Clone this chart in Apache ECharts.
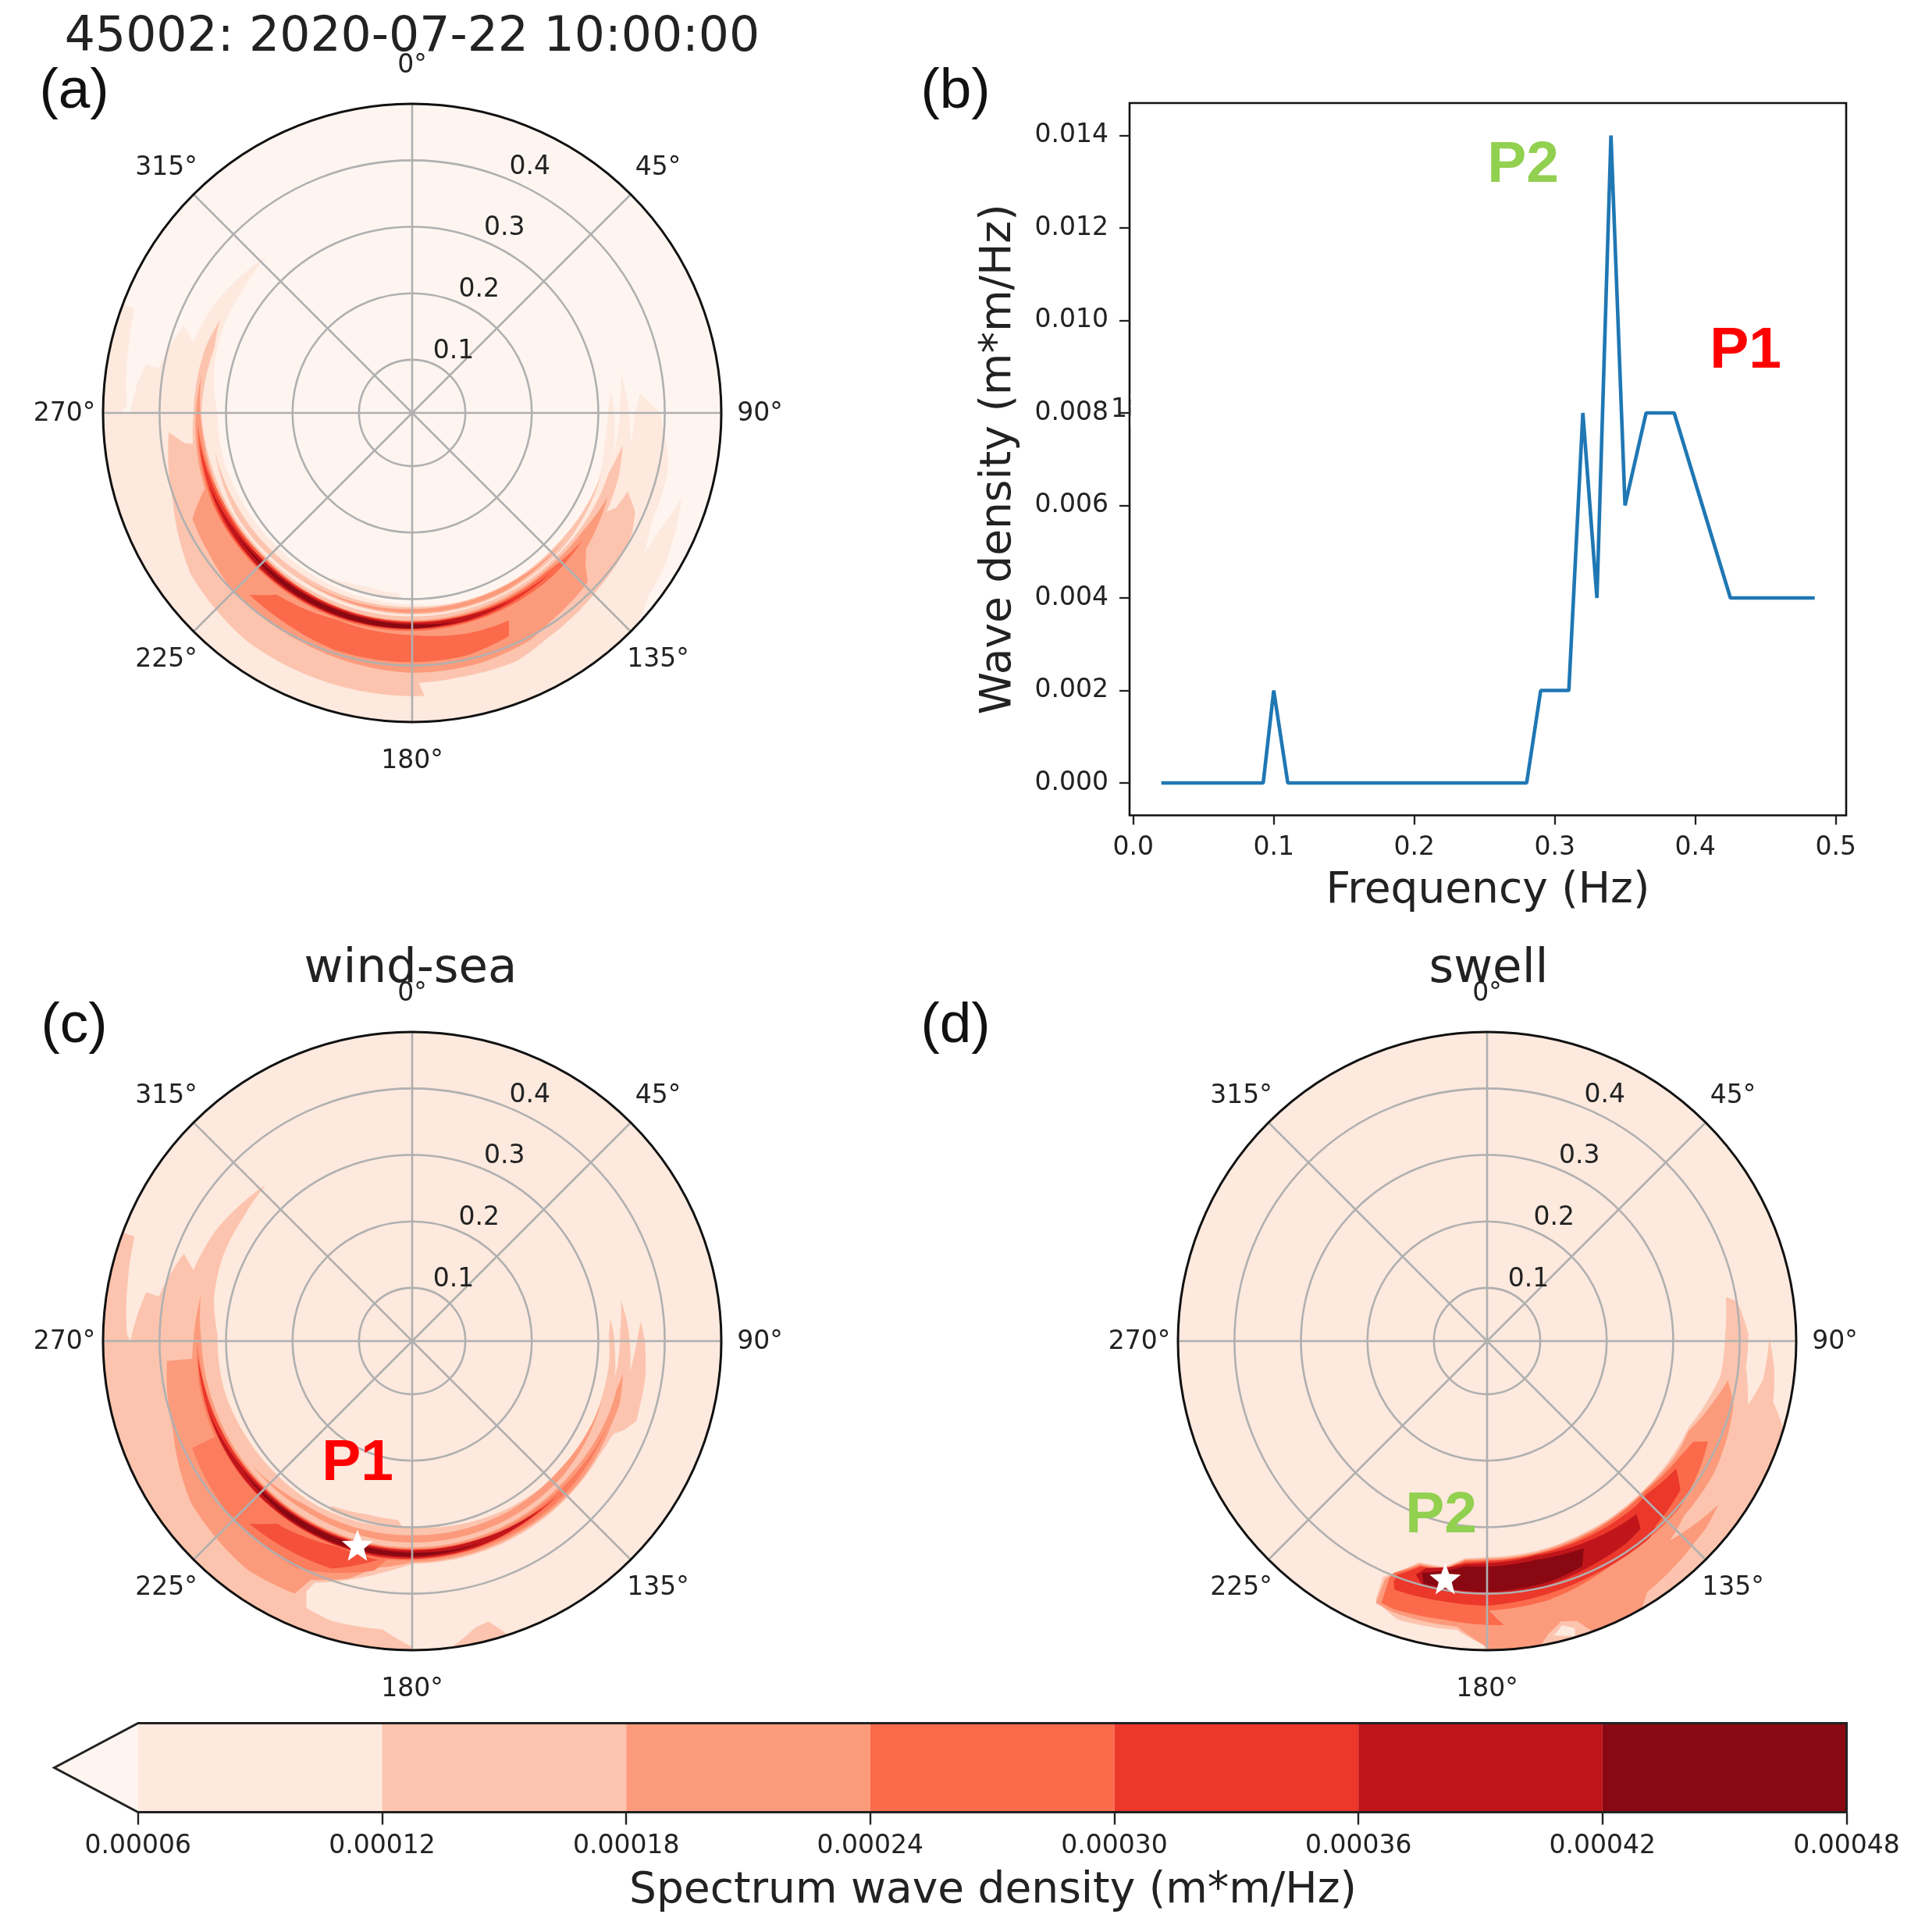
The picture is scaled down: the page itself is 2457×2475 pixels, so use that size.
<!DOCTYPE html>
<html><head><meta charset="utf-8">
<style>html,body{margin:0;padding:0;background:#fff}#c{width:2457px;height:2475px}</style>
<script src="https://cdn.jsdelivr.net/npm/echarts@6/dist/echarts.min.js"></script>
</head><body><div id="c"></div>
<script>
// ---- line spectrum (panel b)
const freqs=[0.02,0.0325,0.0375,0.0425,0.0475,0.0525,0.0575,0.0625,0.0675,0.0725,0.0775,0.0825,0.0875,0.0925,0.1,0.11,0.12,0.13,0.14,0.15,0.16,0.17,0.18,0.19,0.2,0.21,0.22,0.23,0.24,0.25,0.26,0.27,0.28,0.29,0.3,0.31,0.32,0.33,0.34,0.35,0.365,0.385,0.425,0.485];
const density=[0,0,0,0,0,0,0,0,0,0,0,0,0,0,0.002,0,0,0,0,0,0,0,0,0,0,0,0,0,0,0,0,0,0,0.002,0.002,0.002,0.008,0.004,0.014,0.006,0.008,0.008,0.004,0.004];
const freqTicks=[0,0.1,0.2,0.3,0.4,0.5];
const densityTicks=[0,0.002,0.004,0.006,0.008,0.01,0.012,0.014];
// ---- colour levels (entries 8 and 9 are the slightly lighter fills seen in panel c)
const cbLevels=[0.00006,0.00012,0.00018,0.00024,0.0003,0.00036,0.00042,0.00048];
const cbUnder=0.0000394;
const levelColors=['#fff5f0','#fde9de','#fcc4ae','#fc9b7c','#fb6b4b','#ec372b','#bf151b','#8a0812','#fb7d5d','#f4503a'];
// ---- polar axes
const radialTicks=[0.1,0.2,0.3,0.4];
const dirTicks=[0,45,90,135,180,225,270,315];
const fMin=0.02,fMax=0.485;
const disc=[[0,.485],[360,.485],[360,.02],[0,.02]];
// ---- contour bands: [level, [[direction deg, frequency Hz],...]]
const panelA=[
[0,disc],
[1,[[290.6,.485],[290.6,.466],[281.8,.457],[271.4,.449],[270,.46],[270,.485]]],
[1,[[317,.342],[306.4,.352],[299.5,.359],[288,.366],[291,.388],[280,.407],[280.4,.427],[276,.436],[270,.444],[270,.485],[133,.485],[128,.47],[122,.465],[115,.455],[107.3,.445],[115,.432],[121,.428],[115,.416],[108.7,.415],[103.4,.415],[98.9,.409],[93,.397],[90,.394],[88,.38],[85,.364],[90,.355],[98.3,.352],[90,.346],[83.3,.342],[79,.34],[87.4,.333],[102.6,.329],[92.4,.325],[87.3,.323],[83.3,.32],[88.6,.315],[97.8,.313],[111,.318],[126,.319],[152,.318],[180,.308],[210,.306],[225,.306],[240,.308],[255,.312],[270,.313],[282,.325],[294,.332],[306.4,.335]]],
[1,[[206,.296],[194.6,.29],[184.5,.292],[183,.30],[206,.303]]],
[2,[[295.8,.341],[288,.346],[270,.349],[262,.353],[262.4,.365],[265.5,.387],[249.6,.404],[234,.432],[215.8,.444],[196.5,.445],[177.5,.446],[178.6,.426],[170,.424],[157,.425],[149,.415],[133,.405],[125.3,.402],[118.6,.397],[114,.387],[110,.365],[115,.358],[117,.348],[107,.345],[98.6,.34],[107,.329],[117,.328],[135,.326],[180,.326],[225,.328],[255,.332],[270,.337],[288,.333]]],
[2,[[107.7,.319],[131.6,.324],[153,.324],[180,.323],[213,.322],[240,.326],[259,.322],[240,.318],[213,.314],[180,.312],[153,.314],[131.6,.314]]],
[3,[[280.3,.342],[262,.348],[250,.352],[244.3,.387],[235,.392],[225.3,.40],[205,.403],[180,.411],[165,.41],[152.4,.405],[146,.396],[134,.387],[131.3,.367],[128,.352],[113.3,.34],[125,.332],[140,.330],[180,.332],[240,.334],[262,.336]]],
[3,[[129.5,.318],[153,.322],[180,.321],[214,.32],[180,.315],[153,.315]]],
[4,[[221.8,.387],[216.7,.361],[200.4,.351],[180,.354],[166,.362],[155,.3645],[156.6,.386],[167.5,.394],[180,.395],[197.9,.395],[211.6,.389]]],
[4,[[267,.343],[245,.35],[225,.35],[200,.349],[180,.348],[160,.346],[140,.344],[126.6,.34],[140,.333],[160,.334],[180,.334],[225,.331],[245,.334]]],
[5,[[262,.343],[240,.348],[210,.347],[180,.345],[160,.344],[138.8,.338],[160,.335],[180,.334],[210,.333],[240,.336]]],
[6,[[250.5,.344],[225,.347],[200,.346],[180,.345],[165,.343],[151.7,.339],[165,.336],[180,.336],[200,.335],[225,.335]]],
[7,[[235,.341],[215,.344],[195,.344],[180,.344],[168.4,.341],[180,.338],[195,.337],[215,.337]]]
];
const panelC=[
[1,disc],
[2,[[290.6,.485],[290.6,.466],[281.8,.457],[271.4,.449],[270,.444],[280.4,.427],[280,.407],[291,.388],[288,.366],[299.5,.359],[306.4,.352],[317,.342],[306.4,.335],[294,.332],[282,.325],[272,.313],[255,.312],[240,.308],[225,.306],[210,.306],[180,.30],[150,.31],[125,.318],[109.6,.3175],[96.5,.318],[88,.316],[83.3,.32],[87.5,.323],[92,.325],[99.9,.3295],[97,.331],[87.6,.333],[79,.34],[83.5,.3435],[88.4,.3465],[97.9,.351],[93,.355],[89,.359],[85,.365],[90,.37],[99.3,.375],[105.7,.376],[109.6,.378],[112.7,.366],[114.6,.354],[116.3,.352],[121.9,.35],[150,.353],[180,.355],[187.3,.371],[194,.389],[202,.412],[202.9,.429],[201.6,.452],[196,.458],[185.9,.456],[180,.48],[180,.485]]],
[2,[[173,.485],[171.2,.478],[167.5,.461],[164.8,.457],[162.9,.474],[162,.485]]],
[2,[[206,.296],[194.6,.289],[184.5,.29],[183,.30],[206,.303]]],
[3,[[265.4,.39],[249.6,.404],[234,.432],[215.8,.444],[205,.439],[203,.41],[195,.39],[189.5,.366],[180,.353],[150,.35],[130,.349],[113,.345],[107,.346],[98.8,.341],[103.3,.336],[109.3,.3355],[130,.331],[180,.33],[225,.331],[250,.333],[270,.337],[282,.345],[270,.349],[265.4,.352]]],
[3,[[107.7,.319],[131.6,.324],[153,.324],[180,.323],[213,.322],[232,.325],[213,.314],[180,.312],[153,.314],[131.6,.314]]],
[8,[[244.1,.388],[227.6,.399],[206.7,.403],[199.2,.389],[189.4,.37],[186.6,.351],[170,.348],[140,.346],[113.5,.34],[140,.334],[170,.333],[200,.332],[225,.333],[245,.336],[262,.34],[270,.343],[258,.347],[244.1,.35]]],
[9,[[221.7,.388],[210,.385],[199.5,.383],[188.8,.353],[200,.349],[216.5,.362]]],
[5,[[266,.343],[245,.346],[230,.348],[200,.348],[188.8,.349],[165,.346],[136.8,.339],[165,.334],[190,.333],[225,.334],[245,.337],[258,.34]]],
[6,[[252,.344],[225,.347],[200,.347],[180,.346],[160,.344],[142,.338],[160,.335],[180,.335],[200,.335],[225,.336]]],
[7,[[232,.341],[215,.345],[195,.345],[180,.344],[160.6,.341],[180,.338],[195,.337],[215,.337]]]
];
const panelD=[
[1,disc],
[2,[[79.7,.387],[81,.401],[88.3,.413],[95.8,.4115],[103.8,.424],[98,.439],[89.3,.4445],[96,.4545],[102,.46],[106.5,.485],[180.5,.485],[180.5,.478],[186,.457],[197.9,.46],[203.3,.4446],[203.8,.4075],[201.3,.392],[197,.368],[190.7,.365],[185.7,.348],[180,.345],[153.8,.343],[133.5,.345],[113,.35],[98.4,.375],[89,.378],[79.7,.385]]],
[1,[[165.2,.462],[167.2,.474],[163.4,.483],[163,.472]]],
[3,[[99.2,.387],[104.6,.403],[110.3,.408],[120.2,.415],[131.4,.416],[137.5,.427],[125.3,.446],[130.3,.453],[134,.455],[147.5,.468],[150,.485],[160,.485],[162.2,.462],[165.2,.456],[168.2,.47],[170,.485],[179.5,.485],[180.5,.478],[186,.452],[199,.452],[203,.448],[203.2,.41],[202,.396],[197,.37],[190.7,.367],[185.7,.35],[180,.347],[153.8,.345],[133,.346],[120.8,.352],[114,.352],[104.8,.373]]],
[4,[[116,.365],[114.4,.385],[120,.392],[130.6,.403],[150.4,.405],[166.7,.4205],[179.6,.4255],[176.6,.448],[180,.447],[188.8,.444],[199.4,.447],[202,.4445],[202.4,.4056],[201.7,.395],[196.5,.3715],[190.7,.369],[185.7,.352],[180,.349],[153.8,.3476],[133,.348],[120.8,.358]]],
[5,[[124,.363],[127.6,.387],[137.4,.396],[140.4,.404],[155.2,.406],[166.4,.411],[180,.418],[189.4,.417],[200.4,.419],[201.2,.409],[201,.396],[196.4,.3735],[190.6,.371],[188.3,.3605],[185.7,.3547],[180,.351],[167.3,.349],[154,.351],[137.6,.354],[133.8,.3525]]],
[6,[[197,.387],[195,.373],[188.2,.3625],[185.5,.3567],[180,.354],[167.4,.351],[154.5,.3565],[139.2,.364],[140.7,.3846],[145.4,.389],[154.1,.392],[165.9,.398],[180,.40],[187.4,.401],[194.5,.402]]],
[7,[[195.7,.382],[188,.366],[185.6,.3605],[180,.359],[167.6,.357],[155,.3636],[157.1,.3878],[165.8,.394],[180,.397],[187.5,.397],[194.7,.397]]]
];
const peakC=[[0.338,195]];
const peakD=[[0.383,190]];
// ---- layout
const polars=[{c:[528,529],d:panelA,star:null},{c:[528,1718],d:panelC,star:peakC},{c:[1905,1718],d:panelD,star:peakD}];
const R=396, tick=33, big=61.6, lab=55;
const font='"DejaVu Sans"';
const inkT='#222';

function subdivide(pts){
  const out=[];
  for(let i=0;i<pts.length;i++){
    const a=pts[i],b=pts[(i+1)%pts.length];
    const n=Math.max(1,Math.ceil(Math.abs(b[0]-a[0])/1.5));
    for(let k=0;k<n;k++){out.push([a[0]+(b[0]-a[0])*k/n,a[1]+(b[1]-a[1])*k/n]);}
  }
  return out;
}
const series=[],polar=[],angleAxis=[],radiusAxis=[];
polars.forEach((p,i)=>{
  polar.push({center:p.c,radius:R});
  angleAxis.push({polarIndex:i,type:'value',min:0,max:360,interval:45,startAngle:90,clockwise:true,z:5,
    axisLine:{show:true,lineStyle:{color:'#111',width:3}},axisTick:{show:false},axisLabel:{show:false},
    splitLine:{show:true,lineStyle:{color:'#b0b0b0',width:2.6}},minorTick:{show:false}});
  radiusAxis.push({polarIndex:i,type:'value',min:fMin,max:fMax,z:5,
    axisLine:{show:false},axisTick:{show:false,customValues:radialTicks},axisLabel:{show:false,customValues:radialTicks},
    splitLine:{show:true,lineStyle:{color:'#b0b0b0',width:2.6}}});
  series.push({type:'custom',coordinateSystem:'polar',polarIndex:i,silent:true,animation:false,z:2,
    data:p.d.map((b,j)=>[b[1][0][1],b[1][0][0]]),
    renderItem:(params,api)=>{
      const band=p.d[params.dataIndex];
      const pts=subdivide(band[1]).map(q=>api.coord([q[1],q[0]]));
      return {type:'polygon',shape:{points:pts},style:{fill:levelColors[band[0]]}};
    }});
  // direction labels, centred 1.125 R from the pole
  series.push({type:'custom',coordinateSystem:'polar',polarIndex:i,silent:true,animation:false,z:6,
    data:dirTicks.map(d=>[fMax,d]),
    renderItem:(params,api)=>{
      const d=dirTicks[params.dataIndex];
      const pt=api.coord([fMin+(fMax-fMin)*1.125,d]);
      return {type:'text',style:{x:pt[0],y:pt[1]+1,text:d+'°',fill:inkT,font:tick+'px '+font,align:'center',verticalAlign:'middle'}};
    }});
  // frequency labels along the 22.5 degree ray
  series.push({type:'custom',coordinateSystem:'polar',polarIndex:i,silent:true,animation:false,z:6,
    data:radialTicks.map(r=>[r,22.5]),
    renderItem:(params,api)=>{
      const r=radialTicks[params.dataIndex];
      const pt=api.coord([r,22.5]);
      return {type:'text',style:{x:pt[0]+27,y:pt[1]-16,text:r.toFixed(1),fill:inkT,font:tick+'px '+font,align:'center',verticalAlign:'middle'}};
    }});
  if(p.star){
    series.push({type:'scatter',coordinateSystem:'polar',polarIndex:i,silent:true,animation:false,z:8,data:p.star,
      symbol:'path://M50 0 L63 33 L100 35 L71 58 L81 95 L50 74 L19 95 L29 58 L0 35 L37 33Z',symbolSize:40,
      itemStyle:{color:'#fff',opacity:1}});
  }
});
// line
series.push({type:'line',xAxisIndex:0,yAxisIndex:0,data:freqs.map((f,i)=>[f,density[i]]),showSymbol:false,animation:false,silent:true,
  lineStyle:{color:'#1f77b4',width:4.6},itemStyle:{color:'#1f77b4'}});
// colorbar
const cbBands=cbLevels.slice(0,-1).map((v,i)=>[v,cbLevels[i+1],i+1]);
series.push({type:'custom',xAxisIndex:1,yAxisIndex:1,coordinateSystem:'cartesian2d',silent:true,animation:false,z:2,
  data:cbBands.map(b=>[b[0],0]),
  renderItem:(params,api)=>{
    const b=cbBands[params.dataIndex];
    const a=api.coord([b[0],1]),c=api.coord([b[1],0]);
    return {type:'rect',shape:{x:a[0],y:a[1],width:c[0]-a[0],height:c[1]-a[1]},style:{fill:levelColors[b[2]]}};
  }});
const cbOutline=[[cbUnder,0.5],[cbLevels[0],1],[cbLevels[7],1],[cbLevels[7],0],[cbLevels[0],0]];
series.push({type:'custom',xAxisIndex:1,yAxisIndex:1,coordinateSystem:'cartesian2d',silent:true,animation:false,z:3,
  data:[[cbUnder,0.5]],
  renderItem:(params,api)=>{
    const pts=cbOutline.map(q=>api.coord(q));
    return {type:'group',children:[
      {type:'polygon',shape:{points:[pts[0],pts[1],pts[4]]},style:{fill:levelColors[0]}},
      {type:'polygon',shape:{points:pts},style:{fill:'none',stroke:'#222',lineWidth:3}}
    ]};
  }});
const T=(text,x,y,f,col,extra)=>({type:'text',z:20,style:Object.assign({x,y,text,font:f,fill:col||'#111',align:'center',verticalAlign:'middle'},extra||{})});
const paren='73px "Liberation Sans"', bold='bold 75px "Liberation Sans"';
const option={
  animation:false,backgroundColor:'#fff',
  polar,angleAxis,radiusAxis,
  grid:[
    {left:1447,top:132,width:918,height:912.5,show:true,borderColor:'#111',borderWidth:2.6,backgroundColor:'#fff',containLabel:false},
    {left:69.5,top:2207.5,width:2296,height:114,show:false,containLabel:false}
  ],
  xAxis:[
    {gridIndex:0,type:'value',min:-0.0026,max:0.5074,splitLine:{show:false},axisLine:{show:false,onZero:false},
     axisTick:{show:true,length:12,customValues:freqTicks,lineStyle:{color:'#222',width:2.3}},
     axisLabel:{customValues:freqTicks,formatter:v=>v.toFixed(1),color:inkT,fontFamily:'DejaVu Sans',fontSize:tick,margin:25},
     name:'Frequency (Hz)',nameLocation:'middle',nameGap:70,nameTextStyle:{fontFamily:'DejaVu Sans',fontSize:lab,color:'#222'}},
    {gridIndex:1,type:'value',min:cbUnder,max:0.00048,splitLine:{show:false},axisLine:{show:false,onZero:false},
     axisTick:{show:true,length:16,customValues:cbLevels,lineStyle:{color:'#222',width:2.4}},
     axisLabel:{customValues:cbLevels,formatter:v=>v.toFixed(5),color:inkT,fontFamily:'DejaVu Sans',fontSize:tick,margin:27,hideOverlap:false,showMinLabel:true,showMaxLabel:true}}
  ],
  yAxis:[
    {gridIndex:0,type:'value',min:-0.0007,max:0.0147,splitLine:{show:false},axisLine:{show:false,onZero:false},
     axisTick:{show:true,length:13,customValues:densityTicks,lineStyle:{color:'#222',width:2.3}},
     axisLabel:{customValues:densityTicks,formatter:v=>v.toFixed(3),color:inkT,fontFamily:'DejaVu Sans',fontSize:tick,margin:27,padding:[5,0,0,0]},
     name:'Wave density (m*m/Hz)',nameLocation:'middle',nameGap:140,nameTextStyle:{fontFamily:'DejaVu Sans',fontSize:lab,color:'#222'}},
    {gridIndex:1,type:'value',min:0,max:1,show:false,splitLine:{show:false}}
  ],
  series,
  graphic:[
    T('45002: 2020-07-22 10:00:00',528,49,big+'px '+font,'#222'),
    T('wind-sea',526,1242,'61px '+font,'#222'),
    T('swell',1907,1242,'61px '+font,'#222'),
    T('(a)',95,118,paren),T('(b)',1224,118,paren),T('(c)',95,1315,paren),T('(d)',1224,1315,paren),
    T('P2',1951,212,bold,'#92d050'),T('P1',2236,450,bold,'#ff0000'),
    T('P1',458,1875,bold,'#ff0000'),T('P2',1846,1942,bold,'#92d050'),
    T('Spectrum wave density (m*m/Hz)',1272,2423,lab+'px '+font,'#222'),
    // remnant of a clipped label beside the 0.008 tick in the reference
    T('18',1423,525,tick+'px '+font,'#222',{align:'left'}),
    {type:'rect',z:21,shape:{x:1448.5,y:505,width:30,height:42},style:{fill:'#fff'}}
  ]
};
const chart=echarts.init(document.getElementById('c'),null,{renderer:'canvas',width:2457,height:2475});
chart.setOption(option);
</script></body></html>
